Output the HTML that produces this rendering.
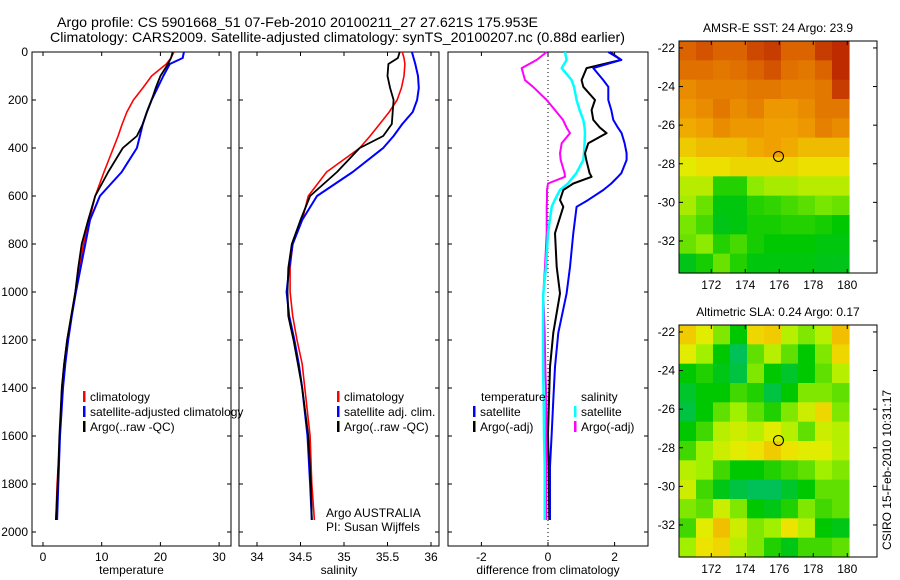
<!DOCTYPE html>
<html><head><meta charset="utf-8">
<style>
body{margin:0;background:#fff;}
svg{display:block;font-family:"Liberation Sans",sans-serif;font-size:12px;}
</style></head>
<body>
<svg id="fig" width="900" height="580" viewBox="0 0 900 580">
<text x="57" y="27" font-size="14" textLength="481" lengthAdjust="spacingAndGlyphs">Argo profile: CS 5901668_51 07-Feb-2010 20100211_27 27.621S 175.953E</text>
<text x="50" y="42" font-size="14" textLength="575" lengthAdjust="spacingAndGlyphs">Climatology: CARS2009. Satellite-adjusted climatology: synTS_20100207.nc (0.88d earlier)</text>
<g id="p1"></g>
<g id="p2"></g>
<g id="p3"></g>
<g id="m1"></g>
<g id="m2"></g>
<text transform="translate(891,470) rotate(-90)" text-anchor="middle">CSIRO 15-Feb-2010 10:31:17</text>
</svg>
<script>
const depths=[0,25,50,100,150,200,250,300,350,400,500,600,700,800,900,1000,1100,1200,1300,1400,1600,1800,1950];
const tempClim=[22.3,21.8,21,18.5,17,15.4,14.3,13.5,12.8,12,10.4,8.9,7.9,6.9,6.2,5.5,4.8,4.1,3.6,3.2,2.9,2.4,2.2];
const tempSat=[24,23.8,21.6,20.5,19.5,18.5,17.7,17,16.5,16,13.4,9.7,8,7.2,6.4,5.6,4.9,4.3,3.8,3.4,2.9,2.6,2.4];
const tempArgo=[22.1,21.8,21.3,20,19.2,18.5,17.7,17,16,13.6,11.1,8.9,7.7,6.6,6,5.5,4.8,4.1,3.6,3.2,2.8,2.5,2.2];
const salClim=[35.67,35.69,35.70,35.69,35.66,35.61,35.52,35.41,35.30,35.18,34.80,34.59,34.52,34.41,34.38,34.38,34.41,34.46,34.52,34.55,34.61,34.63,34.66];
const salSat=[35.78,35.80,35.82,35.85,35.86,35.84,35.79,35.67,35.57,35.45,35.10,34.69,34.52,34.41,34.37,34.34,34.37,34.43,34.48,34.52,34.58,34.61,34.63];
const salArgo=[35.64,35.62,35.51,35.50,35.53,35.57,35.56,35.55,35.45,35.18,34.92,34.61,34.50,34.40,34.36,34.35,34.36,34.42,34.47,34.52,34.59,34.62,34.63];
const diffDepths=[0,33,67,117,145,200,242,283,315,338,380,422,450,505,520,548,575,617,645,755,896,1006,1170,1312,1450,1590,1727,1950];
const dTempSat=[1.81,2.2,1.36,1.66,1.81,1.81,1.9,1.96,2.1,2.21,2.3,2.36,2.36,2.2,2.1,1.9,1.66,1.2,0.86,0.76,0.66,0.56,0.31,0.21,0.16,0.11,0.06,0.06];
const dTempArgo=[1.86,2.2,1.16,1.01,1.06,1.41,1.31,1.36,1.56,1.76,1.21,1.11,1.15,1.25,1.31,0.76,0.46,0.36,0.46,0.21,0.26,0.36,0.16,0.06,0.03,0.0,0.02,0.04];
const dSalSat=[0.51,0.56,0.41,0.71,0.78,0.86,0.95,1.06,1.1,1.11,1.1,1.08,1.06,0.85,0.76,0.6,0.36,0.2,0.11,0.0,-0.06,-0.14,-0.15,-0.15,-0.13,-0.12,-0.1,-0.1];
const dSalArgo=[-0.04,-0.34,-0.79,-0.69,-0.45,-0.04,0.21,0.45,0.56,0.66,0.41,0.36,0.38,0.5,0.51,0.0,-0.03,-0.03,-0.04,-0.04,-0.09,-0.14,-0.1,-0.08,-0.05,-0.05,-0.05,-0.05];
const depthTicks=[0,200,400,600,800,1000,1200,1400,1600,1800,2000];
const tempTicks=[0,10,20,30];
const salTicks=[34,34.5,35,35.5,36];
const salTickLabels=["34","34.5","35","35.5","36"];
const diffTicks=[-2,0,2];
const lonTicks=[172,174,176,178,180];
const latTicks=[-22,-24,-26,-28,-30,-32];
const sstGrid=[
[0.85,0.88,0.85,0.85,0.9,0.92,0.85,0.85,0.92,0.95],
[0.82,0.82,0.8,0.82,0.85,0.88,0.82,0.8,0.85,0.95],
[0.75,0.78,0.78,0.78,0.8,0.8,0.78,0.78,0.8,0.92],
[0.72,0.75,0.8,0.75,0.78,0.72,0.72,0.75,0.8,0.8],
[0.68,0.7,0.75,0.72,0.72,0.7,0.7,0.72,0.78,0.75],
[0.62,0.65,0.65,0.65,0.68,0.7,0.68,0.65,0.65,0.65],
[0.55,0.58,0.58,0.6,0.6,0.6,0.6,0.58,0.58,0.58],
[0.5,0.5,0.3,0.3,0.45,0.48,0.48,0.5,0.5,0.5],
[0.48,0.4,0.22,0.22,0.3,0.32,0.35,0.38,0.42,0.4],
[0.42,0.35,0.2,0.22,0.28,0.28,0.3,0.3,0.28,0.25],
[0.4,0.45,0.3,0.35,0.28,0.25,0.25,0.25,0.22,0.22],
[0.2,0.28,0.4,0.3,0.22,0.22,0.22,0.22,0.2,0.2]];
const slaGrid=[
[0.85,0.7,0.5,0.3,0.8,0.85,0.6,0.5,0.6,0.9],
[0.7,0.55,0.3,0.1,0.45,0.6,0.45,0.3,0.5,0.8],
[0.3,0.35,0.25,0.15,0.5,0.3,0.2,0.3,0.45,0.6],
[0.2,0.3,0.3,0.4,0.35,0.15,0.3,0.5,0.5,0.45],
[0.15,0.3,0.45,0.55,0.45,0.35,0.5,0.65,0.8,0.5],
[0.3,0.4,0.6,0.65,0.6,0.7,0.6,0.45,0.65,0.6],
[0.4,0.55,0.65,0.7,0.75,0.85,0.75,0.7,0.7,0.6],
[0.6,0.55,0.4,0.3,0.3,0.35,0.4,0.45,0.55,0.5],
[0.65,0.4,0.25,0.15,0.1,0.1,0.2,0.3,0.45,0.45],
[0.5,0.45,0.65,0.5,0.3,0.25,0.35,0.5,0.4,0.45],
[0.4,0.7,0.9,0.65,0.5,0.55,0.75,0.6,0.3,0.25],
[0.55,0.75,0.8,0.6,0.5,0.35,0.25,0.4,0.4,0.45]];
const argoLon=175.953, argoLat=-27.621;

const NS="http://www.w3.org/2000/svg";
function mk(parent,tag,attrs,text){const e=document.createElementNS(NS,tag);for(const k in attrs)e.setAttribute(k,attrs[k]);if(text!==undefined)e.textContent=text;parent.appendChild(e);return e;}
const yD=d=>52+d*0.24;
const TOP=52,BOT=546;

function panel(g,x0,x1,xs,ticks,labels,xlabel,showY){
  const f=mk(g,'rect',{x:x0,y:TOP,width:x1-x0,height:BOT-TOP,fill:'none',stroke:'#000'});
  
  
  depthTicks.forEach(d=>{
    mk(g,'line',{x1:x0,x2:x0+4,y1:yD(d),y2:yD(d),stroke:'#000'});
    mk(g,'line',{x1:x1,x2:x1-4,y1:yD(d),y2:yD(d),stroke:'#000'});
    if(showY){const t=mk(g,'text',{x:x0-4,y:yD(d)+4,'text-anchor':'end'},String(d));
      
      }
  });
  ticks.forEach((v,i)=>{
    const x=xs(v);
    mk(g,'line',{x1:x,x2:x,y1:BOT,y2:BOT-4,stroke:'#000'});
    mk(g,'line',{x1:x,x2:x,y1:TOP,y2:TOP+4,stroke:'#000'});
    const t=mk(g,'text',{x:x,y:BOT+15,'text-anchor':'middle'},labels[i]);
    
    
  });
  const xl=mk(g,'text',{x:(x0+x1)/2,y:BOT+28,'text-anchor':'middle'},xlabel);
  
  
}
function line(g,xs,vals,ds,color,w,name){
  const pts=vals.map((v,i)=>xs(v).toFixed(1)+','+yD(ds[i]).toFixed(1)).join(' ');
  const p=mk(g,'polyline',{points:pts,fill:'none',stroke:color,'stroke-width':w,'stroke-linejoin':'round'});
  
  
}
function legend(g,x,y,color,label){
  mk(g,'rect',{x:x,y:y-10,width:2.5,height:11,fill:color});
  const t=mk(g,'text',{x:x+7,y:y},label);
  
  
}

const p1=document.getElementById('p1');
const xT=v=>43+v*5.87;
panel(p1,32,231,xT,tempTicks,tempTicks.map(String),'temperature',true);
line(p1,xT,tempClim,depths,'#f00',1.6,'temp-climatology-line');
line(p1,xT,tempSat,depths,'#00f',2,'temp-satellite-line');
line(p1,xT,tempArgo,depths,'#000',1.8,'temp-argo-line');
legend(p1,83,401,'#f00','climatology');
legend(p1,83,416,'#00f','satellite-adjusted climatology');
legend(p1,83,431,'#000','Argo(..raw -QC)');

const p2=document.getElementById('p2');
const xS=v=>257+(v-34)*87;
panel(p2,239,439,xS,salTicks,salTickLabels,'salinity',false);
line(p2,xS,salClim,depths,'#f00',1.6,'sal-climatology-line');
line(p2,xS,salSat,depths,'#00f',2,'sal-satellite-line');
line(p2,xS,salArgo,depths,'#000',1.8,'sal-argo-line');
legend(p2,337,401,'#f00','climatology');
legend(p2,337,416,'#00f','satellite adj. clim.');
legend(p2,337,431,'#000','Argo(..raw -QC)');
let t=mk(p2,'text',{x:326,y:517},'Argo AUSTRALIA');
t=mk(p2,'text',{x:326,y:531},'PI: Susan Wijffels');

const p3=document.getElementById('p3');
const xDf=v=>548+v*33.3;
panel(p3,448,648,xDf,diffTicks,diffTicks.map(String),'difference from climatology',false);
mk(p3,'line',{x1:xDf(0),x2:xDf(0),y1:TOP,y2:BOT,stroke:'#000','stroke-dasharray':'1,3'});
line(p3,xDf,dSalArgo,diffDepths,'#f0f',2,'sal-argo-diff-line');
line(p3,xDf,dSalSat,diffDepths,'#0ff',2.5,'sal-satellite-diff-line');
line(p3,xDf,dTempArgo,diffDepths,'#000',2,'temp-argo-diff-line');
line(p3,xDf,dTempSat,diffDepths,'#00f',2,'temp-satellite-diff-line');
t=mk(p3,'text',{x:481,y:401},'temperature');
t=mk(p3,'text',{x:581,y:401},'salinity');
legend(p3,473,416,'#00f','satellite');
legend(p3,473,431,'#000','Argo(-adj)');
legend(p3,574,416,'#0ff','satellite');
legend(p3,574,431,'#f0f','Argo(-adj)');

function lerpCol(stops,v){
  v=Math.max(0,Math.min(1,v));
  for(let i=1;i<stops.length;i++){if(v<=stops[i][0]){const a=stops[i-1],b=stops[i],f=(v-a[0])/(b[0]-a[0]);
    return 'rgb('+[0,1,2].map(k=>Math.round(a[1][k]+(b[1][k]-a[1][k])*f)).join(',')+')';}}
  const l=stops[stops.length-1][1];return 'rgb('+l.join(',')+')';
}
const sstStops=[[0,[0,180,120]],[0.25,[0,200,0]],[0.45,[140,235,0]],[0.56,[235,235,0]],[0.7,[240,160,0]],[0.85,[220,100,0]],[1,[175,15,0]]];
const slaStops=[[0,[0,190,130]],[0.3,[0,200,0]],[0.55,[160,240,0]],[0.72,[235,235,0]],[1,[245,165,0]]];
function map(g,top,bot,grid,stops,title,latTop,latBot){
  const L=679,R=877,lonL=170.1,lonR=181.75;
  const xL=v=>L+(v-lonL)*(R-L)/(lonR-lonL);
  const yL=v=>top+(latTop-v)*(bot-top)/(latTop-latBot);
  const x180=xL(180.1);
  const rows=grid.length,cols=grid[0].length,cw=(x180-L)/cols,ch=(bot-top)/rows;
  grid.forEach((row,r)=>row.forEach((v,c)=>{
    const cell=mk(g,'rect',{x:(L+c*cw).toFixed(2),y:(top+r*ch).toFixed(2),width:(cw+0.6).toFixed(2),height:(ch+0.6).toFixed(2),fill:lerpCol(stops,v)});
    
    
  }));
  const f=mk(g,'rect',{x:L,y:top,width:R-L,height:bot-top,fill:'none',stroke:'#000'});
  
  
  lonTicks.forEach(v=>{const x=xL(v);
    mk(g,'line',{x1:x,x2:x,y1:bot,y2:bot-4,stroke:'#000'});
    mk(g,'line',{x1:x,x2:x,y1:top,y2:top+4,stroke:'#000'});
    const tl=mk(g,'text',{x:x,y:bot+16,'text-anchor':'middle'},String(v));
    
    });
  latTicks.forEach(v=>{const y=yL(v);
    mk(g,'line',{x1:L,x2:L+4,y1:y,y2:y,stroke:'#000'});
    mk(g,'line',{x1:R,x2:R-4,y1:y,y2:y,stroke:'#000'});
    const tl=mk(g,'text',{x:L-4,y:y+4,'text-anchor':'end'},String(v));
    
    });
  const c=mk(g,'circle',{cx:xL(argoLon),cy:yL(argoLat),r:5,fill:'none',stroke:'#000'});
  
  
  const tt=mk(g,'text',{x:778,y:top-9,'text-anchor':'middle'},title);
  
  
}
map(document.getElementById('m1'),41,273,sstGrid,sstStops,'AMSR-E SST: 24 Argo: 23.9',-21.64,-33.66);
map(document.getElementById('m2'),325,557,slaGrid,slaStops,'Altimetric SLA: 0.24 Argo: 0.17',-21.64,-33.66);
</script>
</body></html>
